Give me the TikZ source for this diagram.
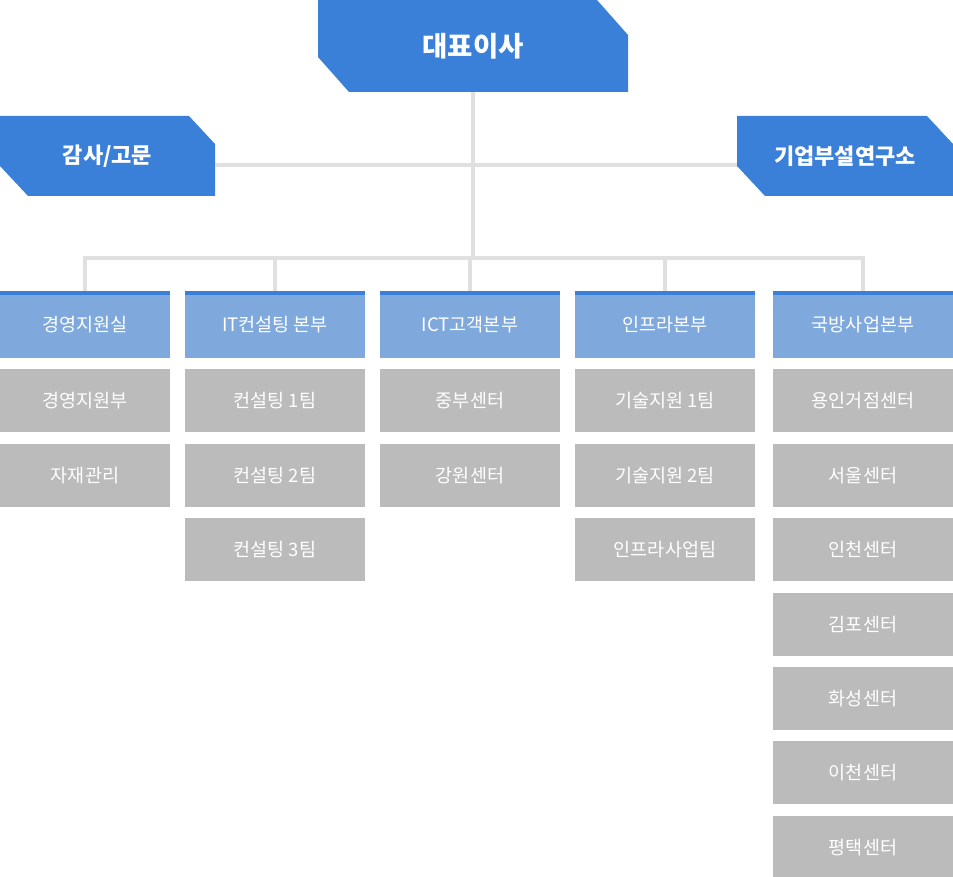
\documentclass[tikz,border=0pt]{standalone}
\usepackage{fontspec}
\newfontfamily\kr{Noto Sans CJK KR}
\usetikzlibrary{shapes, positioning}
\definecolor{bossblue}{HTML}{3A7FD8}
\definecolor{headblue}{HTML}{7FA9DD}
\definecolor{teamgray}{HTML}{BBBBBB}
\definecolor{linegray}{HTML}{E0E0E0}
\tikzstyle{chief} = [rectangle, inner sep=0, minimum width=310, minimum height=92, text=white, font=\kr\bfseries\fontsize{27.5}{32}\selectfont,
  path picture={\fill[bossblue] (path picture bounding box.north west) -- ([xshift=-31pt]path picture bounding box.north east)
    -- ([yshift=-35pt]path picture bounding box.north east) -- (path picture bounding box.south east)
    -- ([xshift=31pt]path picture bounding box.south west) -- ([yshift=35pt]path picture bounding box.south west) -- cycle;}]
\tikzstyle{staff} = [rectangle, inner sep=0, minimum width=216, minimum height=80, text=white, font=\kr\bfseries\fontsize{22}{26}\selectfont,
  path picture={\fill[bossblue] (path picture bounding box.north west) -- ([xshift=-26pt]path picture bounding box.north east)
    -- ([yshift=-28pt]path picture bounding box.north east) -- (path picture bounding box.south east)
    -- ([xshift=28pt]path picture bounding box.south west) -- ([yshift=30pt]path picture bounding box.south west) -- cycle;}]
\tikzstyle{head} = [rectangle, fill=headblue, inner sep=0, minimum width=180, minimum height=67, text=white, font=\kr\fontsize{18.5}{22}\selectfont,
  path picture={\fill[bossblue] (path picture bounding box.north west) rectangle ([yshift=-4pt]path picture bounding box.north east);}]
\tikzstyle{team} = [rectangle, fill=teamgray, inner sep=0, minimum width=180, minimum height=63, text=white, font=\kr\fontsize{18.5}{22}\selectfont]
\tikzstyle{link} = [draw=linegray, line width=4pt]

\begin{document}
\begin{tikzpicture}[x=1pt, y=-1pt]
  \useasboundingbox (0,0) rectangle (953,877);

  % 대표이사
  \node[chief] (ceo) at (473,46) {대표이사};
  \node[staff, minimum width=215] (audit) at (107.5,156) {감사/고문};
  \node[staff] (lab) at (845,156) {기업부설연구소};
  \coordinate (hub) at (473,165);
  \coordinate (bus) at (473,258);

  % 본부
  \node[head, minimum width=170] (d1) at (85,324.5) {경영지원실};
  \node[head] (d2) at (275,324.5) {IT컨설팅 본부};
  \node[head] (d3) at (470,324.5) {ICT고객본부};
  \node[head] (d4) at (665,324.5) {인프라본부};
  \node[head] (d5) at (863,324.5) {국방사업본부};

  % 경영지원실
  \node[team, minimum width=170, below=11pt of d1] (d1_1) {경영지원부};
  \node[team, minimum width=170, below=11pt of d1_1] (d1_2) {자재관리};

  % IT컨설팅 본부
  \node[team, below=11pt of d2] (d2_1) {컨설팅 1팀};
  \node[team, below=11pt of d2_1] (d2_2) {컨설팅 2팀};
  \node[team, below=11pt of d2_2] (d2_3) {컨설팅 3팀};

  % ICT고객본부
  \node[team, below=11pt of d3] (d3_1) {중부센터};
  \node[team, below=11pt of d3_1] (d3_2) {강원센터};

  % 인프라본부
  \node[team, below=11pt of d4] (d4_1) {기술지원 1팀};
  \node[team, below=11pt of d4_1] (d4_2) {기술지원 2팀};
  \node[team, below=11pt of d4_2] (d4_3) {인프라사업팀};

  % 국방사업본부
  \node[team, below=11pt of d5] (d5_1) {용인거점센터};
  \node[team, below=11pt of d5_1] (d5_2) {서울센터};
  \node[team, below=11pt of d5_2] (d5_3) {인천센터};
  \node[team, below=11pt of d5_3] (d5_4) {김포센터};
  \node[team, below=11pt of d5_4] (d5_5) {화성센터};
  \node[team, below=11pt of d5_5] (d5_6) {이천센터};
  \node[team, below=11pt of d5_6] (d5_7) {평택센터};

  \draw[link] (ceo.south) -- (ceo.south |- bus);
  \draw[link] (audit.east |- hub) -- (lab.west |- hub);
  \draw[link] (d1.north) |- (bus) -| (d5.north);
  \draw[link] (d2.north) -- (d2.north |- bus);
  \draw[link] (d3.north) -- (d3.north |- bus);
  \draw[link] (d4.north) -- (d4.north |- bus);
\end{tikzpicture}
\end{document}
